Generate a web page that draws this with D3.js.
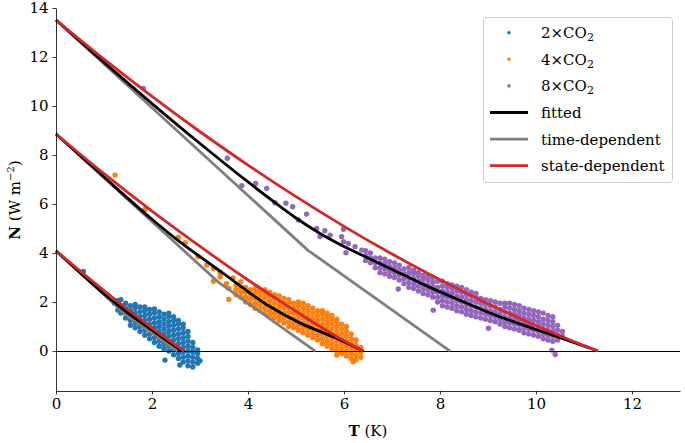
<!DOCTYPE html>
<html><head><meta charset="utf-8">
<script src="https://cdn.jsdelivr.net/npm/d3@7"></script>
<style>body{margin:0;background:#fff} svg{display:block}</style></head>
<body>
<svg id="c" width="685" height="443"></svg>
<script>
// ---------- data ----------
const xTicks = [0, 2, 4, 6, 8, 10, 12];
const yTicks = [0, 2, 4, 6, 8, 10, 12, 14];
const seriesNames = ["2×CO", "4×CO", "8×CO"];
const lineNames = ["fitted", "time-dependent", "state-dependent"];

// scatter points: [T, [N values...]] columns
const blueCols = [
  [0.57,[3.25]],[1.22,[1.95]],[1.29,[1.67,2.05]],[1.35,[1.55,1.85,2.1]],
  [1.45,[1.35,1.55,1.75,1.95]],[1.55,[1.05,1.25,1.45,1.65,1.85]],
  [1.65,[0.95,1.15,1.35,1.55,1.75,1.9]],[1.75,[0.8,1.0,1.2,1.4,1.6,1.8]],
  [1.85,[0.65,0.85,1.05,1.25,1.45,1.65,1.8]],[1.95,[0.5,0.7,0.9,1.1,1.3,1.5,1.7]],
  [2.05,[0.35,0.55,0.75,0.95,1.15,1.35,1.55,1.72]],[2.15,[0.2,0.4,0.6,0.8,1.0,1.2,1.4,1.6]],
  [2.25,[0.1,0.3,0.5,0.7,0.9,1.1,1.3,1.5]],[2.27,[-0.37]],
  [2.35,[0.0,0.2,0.4,0.6,0.8,1.0,1.2,1.4,1.55]],[2.45,[-0.15,0.05,0.25,0.45,0.65,0.85,1.05,1.25,1.4]],
  [2.55,[-0.3,-0.1,0.1,0.3,0.5,0.7,0.9,1.1,1.25]],[2.58,[-0.57]],
  [2.65,[-0.45,-0.25,-0.05,0.15,0.35,0.55,0.75,0.95,1.1]],[2.75,[-0.6,-0.4,-0.2,0.0,0.2,0.4,0.6,0.8]],
  [2.85,[-0.65,-0.45,-0.25,-0.05,0.15,0.35]],[2.95,[-0.5,-0.3,-0.1,0.05]],[3.0,[-0.4]]
];
const orangeCols = [
  [1.23,[7.18]],[1.85,[5.78]],[2.55,[4.64]],[2.69,[4.42]],[2.96,[3.85]],[3.14,[3.51]],
  [3.28,[2.85,3.37]],[3.42,[3.03,3.2]],[3.55,[2.75]],[3.6,[2.11,2.56]],[3.69,[2.98]],
  [3.75,[2.3,2.5,2.7]],[3.85,[2.2,2.4,2.6,2.83]],[3.95,[2.0,2.2,2.4,2.6]],
  [4.05,[1.9,2.1,2.3,2.5]],[4.15,[1.75,1.95,2.15,2.35,2.55]],[4.25,[1.65,1.85,2.05,2.25,2.45]],
  [4.35,[1.55,1.75,1.95,2.15,2.35,2.5]],[4.45,[1.45,1.65,1.85,2.05,2.25,2.4]],
  [4.55,[1.35,1.55,1.75,1.95,2.15,2.3]],[4.65,[1.25,1.45,1.65,1.85,2.05,2.25]],
  [4.75,[1.15,1.35,1.55,1.75,1.95,2.15]],[4.85,[1.0,1.2,1.4,1.6,1.8,2.0,2.1]],
  [4.95,[0.95,1.15,1.35,1.55,1.75,1.95]],[5.05,[0.85,1.05,1.25,1.45,1.65,1.85,2.0]],
  [5.15,[0.75,0.95,1.15,1.35,1.55,1.75,1.95]],[5.25,[0.65,0.85,1.05,1.25,1.45,1.65,1.85]],
  [5.35,[0.55,0.75,0.95,1.15,1.35,1.55,1.75]],[5.45,[0.45,0.65,0.85,1.05,1.25,1.45,1.65]],
  [5.55,[0.3,0.5,0.7,0.9,1.1,1.3,1.5,1.65]],[5.65,[0.2,0.4,0.6,0.8,1.0,1.2,1.4,1.55]],
  [5.75,[0.1,0.3,0.5,0.7,0.9,1.1,1.3,1.45]],[5.85,[-0.16,0.0,0.2,0.4,0.6,0.8,1.0,1.2,1.3]],
  [5.95,[-0.1,0.1,0.3,0.5,0.7,0.9,1.1]],[6.05,[-0.2,0.0,0.2,0.4,0.6,0.8,1.0]],
  [6.15,[-0.3,-0.1,0.1,0.3,0.5,0.7]],[6.19,[-0.44]],[6.25,[-0.35,-0.15,0.05,0.25,0.45]],
  [6.35,[-0.25,-0.05,0.15]]
];
const purpleCols = [
  [1.82,[10.72]],[3.57,[7.87]],[3.87,[6.75]],[4.16,[6.84]],[4.39,[6.64]],[4.56,[6.05]],
  [4.79,[6.03]],[4.93,[5.89]],[5.05,[5.35]],[5.22,[5.59]],[5.43,[5.0]],[5.5,[4.67]],
  [5.6,[4.91]],[5.71,[4.73]],[5.95,[4.67]],[5.99,[4.46,4.97]],[6.04,[4.01]],[6.09,[4.39]],
  [6.23,[4.26]],[6.37,[4.12]],
  [6.45,[3.7,3.9,4.1]],[6.55,[3.6,3.8,4.0]],[6.65,[3.4,3.6,3.8]],[6.75,[3.2,3.4,3.6,3.8]],
  [6.85,[3.15,3.35,3.55,3.75]],[6.95,[3.05,3.25,3.45,3.65]],[7.05,[3.0,3.2,3.4,3.6]],
  [7.13,[2.53]],[7.15,[2.9,3.1,3.3,3.5]],[7.25,[2.75,2.95,3.15,3.35]],
  [7.35,[2.6,2.8,3.0,3.2,3.4]],[7.45,[2.55,2.75,2.95,3.15,3.3]],[7.55,[2.45,2.65,2.85,3.05,3.2]],
  [7.65,[2.35,2.55,2.75,2.95,3.1]],[7.75,[2.3,2.5,2.7,2.9,3.05]],[7.86,[1.67]],
  [7.85,[2.2,2.4,2.6,2.8,3.0]],[7.95,[2.0,2.2,2.4,2.6,2.85]],[8.05,[1.85,2.05,2.25,2.45,2.65,2.85]],
  [8.15,[1.8,2.0,2.2,2.4,2.6,2.75]],[8.25,[1.75,1.95,2.15,2.35,2.55,2.7]],
  [8.35,[1.65,1.85,2.05,2.25,2.45,2.65]],[8.45,[1.6,1.8,2.0,2.2,2.4,2.6]],
  [8.55,[1.5,1.7,1.9,2.1,2.3,2.5]],[8.65,[1.45,1.65,1.85,2.05,2.25,2.4]],
  [8.75,[1.4,1.6,1.8,2.0,2.2,2.35]],[8.85,[1.35,1.55,1.75,1.95,2.15]],
  [8.95,[1.3,1.5,1.7,1.9,2.1]],[9.01,[0.93]],[9.05,[1.25,1.45,1.65,1.85,2.05]],
  [9.15,[1.2,1.4,1.6,1.8,2.0]],[9.25,[1.1,1.3,1.5,1.7,1.95]],[9.35,[1.0,1.2,1.4,1.6,1.8,1.95]],
  [9.45,[0.95,1.15,1.35,1.55,1.75,1.95]],[9.55,[0.9,1.1,1.3,1.5,1.7,1.9]],
  [9.65,[0.85,1.05,1.25,1.45,1.65,1.85]],[9.75,[0.75,0.95,1.15,1.35,1.55,1.75]],
  [9.85,[0.7,0.9,1.1,1.3,1.5,1.7]],[9.95,[0.65,0.85,1.05,1.25,1.45,1.65]],
  [10.05,[0.6,0.8,1.0,1.2,1.4,1.6]],[10.15,[0.5,0.7,0.9,1.1,1.3,1.55]],
  [10.25,[0.45,0.65,0.85,1.05,1.25,1.45]],[10.33,[0.04]],[10.35,[0.4,0.6,0.8,1.0,1.2,1.4]],
  [10.4,[-0.14]],[10.45,[0.45,0.65,0.85,1.05]],[10.55,[0.6,0.8]]
];

// fitted (black)
const fit2 = [[0,4.09],[0.5,3.2],[1,2.33],[1.5,1.55],[2,0.86],[2.62,0]];
const fit4 = [[0,8.86],[1,7.1],[2,5.38],[2.5,4.58],[3,3.85],[3.5,3.15],[4.4,1.88],[5.08,1.15],[5.78,0.57],[6.4,0]];
const fit8 = [[0,13.51],[1,11.78],[2,10.1],[3,8.47],[4,6.9],[4.5,6.15],[5,5.43],[5.5,4.8],[6,4.27],[6.5,3.8],[7,3.33],[7.72,2.66],[8.5,2.0],[9.11,1.5],[10,0.88],[10.5,0.55],[11.29,0]];
// time-dependent (grey)
const time2 = [[0,4.09],[1.43,1.53],[2.53,0]];
const time4 = [[0,8.86],[3.39,2.8],[5.4,0]];
const time8 = [[0,13.51],[5.25,4.11],[8.21,0]];
// state-dependent (red)
const state2 = [[0,4.09],[1,2.47],[2,0.94],[2.67,0]];
const state4 = [[0,8.86],[1,7.24],[2,5.71],[3,4.27],[4,2.9],[5,1.62],[6,0.42],[6.4,0]];
const state8 = [[0,13.51],[1,11.91],[2,10.39],[3,8.95],[4,7.59],[5,6.3],[6,5.09],[7,3.96],[8,2.91],[9,1.93],[10,1.04],[11,0.22],[11.29,0]];

// ---------- drawing ----------
const C = {blue:"#1f77b4", orange:"#ff7f0e", purple:"#9467bd", black:"#000000", grey:"#7f7f7f", red:"#d62728"};
const FONT = '"DejaVu Serif","Liberation Serif","Times New Roman","Noto Serif","FreeSerif","Nimbus Roman","Tinos",Times,Georgia,serif';
const svg = d3.select("#c");
const x = d3.scaleLinear().domain([0, 13]).range([56, 680]);
const y = d3.scaleLinear().domain([-1.63, 14]).range([391, 8]);

const flat = cols => cols.flatMap(([t, ns]) => ns.map(n => [t, n]));
const scatter = [[flat(blueCols), C.blue], [flat(orangeCols), C.orange], [flat(purpleCols), C.purple]];
scatter.forEach(([pts, col]) => {
  svg.append("g").selectAll("circle").data(pts).join("circle")
    .attr("cx", d => x(d[0])).attr("cy", d => y(d[1])).attr("r", 2.7).attr("fill", col);
});

// zero line
svg.append("line").attr("x1", x(0)).attr("x2", x(13)).attr("y1", Math.round(y(0)) + 0.5).attr("y2", Math.round(y(0)) + 0.5)
  .attr("stroke", "#000").attr("stroke-width", 1);

const line = d3.line().x(d => x(d[0])).y(d => y(d[1]));
const smooth = d3.line().x(d => x(d[0])).y(d => y(d[1])).curve(d3.curveMonotoneX);
[[time2, C.grey, line], [time4, C.grey, line], [time8, C.grey, line],
 [fit2, C.black, smooth], [fit4, C.black, smooth], [fit8, C.black, smooth],
 [state2, C.red, smooth], [state4, C.red, smooth], [state8, C.red, smooth]].forEach(([d, col, gen]) => {
  svg.append("path").attr("d", gen(d)).attr("fill", "none").attr("stroke", col)
    .attr("stroke-width", 2.8).attr("stroke-linejoin", "round").attr("stroke-linecap", "butt");
});

// axes
const gx = svg.append("g").attr("transform", `translate(0,${y(-1.63)})`)
  .call(d3.axisBottom(x).tickValues(xTicks).tickSize(3.5).tickSizeOuter(0).tickPadding(4));
const gy = svg.append("g").attr("transform", `translate(${x(0)},0)`)
  .call(d3.axisLeft(y).tickValues(yTicks).tickSize(3.5).tickSizeOuter(0).tickPadding(4));
[gx, gy].forEach(g => {
  g.attr("font-family", FONT).attr("font-size", 15);
  g.selectAll("path,line").attr("stroke", "#000").attr("stroke-width", 0.8);
  g.selectAll("text").attr("font-family", FONT).attr("font-size", 15).attr("fill", "#000");
});

// axis labels
const xl = svg.append("text").attr("x", 368).attr("y", 436).attr("text-anchor", "middle")
  .attr("font-family", FONT).attr("font-size", 15);
xl.append("tspan").attr("font-weight", "bold").text("T");
xl.append("tspan").text(" (K)");
const yl = svg.append("text").attr("transform", "translate(20,200) rotate(-90)").attr("text-anchor", "middle")
  .attr("font-family", FONT).attr("font-size", 15);
yl.append("tspan").attr("font-weight", "bold").text("N");
yl.append("tspan").text(" (W m");
yl.append("tspan").attr("font-size", 10).attr("dy", -6).text("−2");
yl.append("tspan").attr("dy", 6).text(")");

// legend
const lg = svg.append("g");
lg.append("rect").attr("x", 483.5).attr("y", 17.5).attr("width", 189).attr("height", 165).attr("rx", 3)
  .attr("fill", "#fff").attr("fill-opacity", 0.8).attr("stroke", "#cccccc").attr("stroke-width", 1);
const rowY = i => 32.7 + i * 26.6;
const dotCols = [C.blue, C.orange, C.purple];
seriesNames.forEach((nm, i) => {
  lg.append("circle").attr("cx", 509).attr("cy", rowY(i)).attr("r", 1.8).attr("fill", dotCols[i]);
  const t = lg.append("text").attr("x", 541).attr("y", rowY(i) + 5.5)
    .attr("font-family", FONT).attr("font-size", 15);
  t.append("tspan").text(nm);
  t.append("tspan").attr("font-size", 11).attr("dy", 3).text("2");
});
const lineCols = [C.black, C.grey, C.red];
lineNames.forEach((nm, j) => {
  const i = j + 3;
  lg.append("line").attr("x1", 490).attr("x2", 528).attr("y1", rowY(i)).attr("y2", rowY(i))
    .attr("stroke", lineCols[j]).attr("stroke-width", 2.8);
  lg.append("text").attr("x", 541).attr("y", rowY(i) + 5.5)
    .attr("font-family", FONT).attr("font-size", 15).text(nm);
});
</script>
</body></html>
